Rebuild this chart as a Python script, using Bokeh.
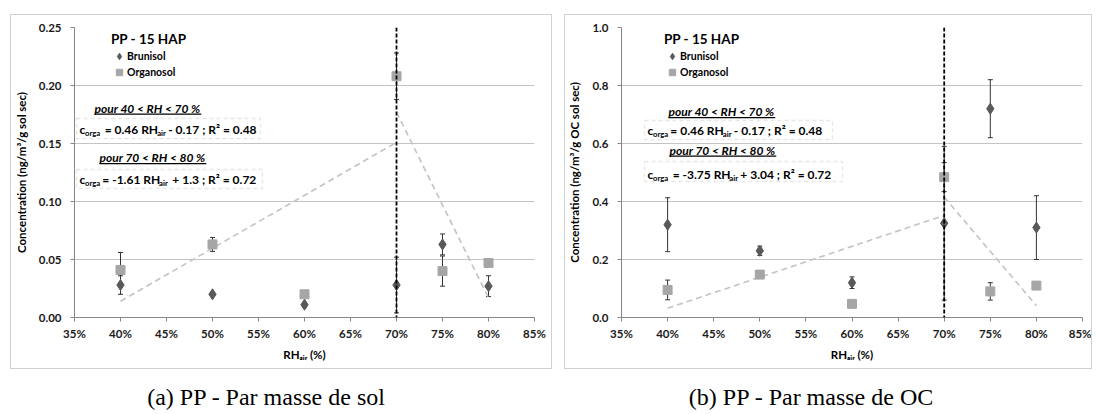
from math import pi
import numpy as np
from bokeh.plotting import figure
from bokeh.models import (ColumnDataSource, Whisker, Span, Label, BoxAnnotation, Legend, LegendItem,
                          NumeralTickFormatter, FixedTicker, Range1d, Spacer, TeeHead)
from bokeh.layouts import row, column
from bokeh.embed import file_html
from bokeh.resources import INLINE

# ---------------- data ----------------
rh_air = [0.40, 0.50, 0.60, 0.70, 0.75, 0.80]
x_ticks = [0.35, 0.40, 0.45, 0.50, 0.55, 0.60, 0.65, 0.70, 0.75, 0.80, 0.85]
rh_threshold = 0.70

# (a) par masse de sol
a_brunisol = [0.028, 0.020, 0.011, 0.028, 0.063, 0.027]
a_brunisol_err = [0.008, 0.001, 0.002, 0.024, 0.009, 0.009]
a_organosol = [0.041, 0.063, 0.020, 0.208, 0.040, 0.047]
a_organosol_err = [0.015, 0.006, 0.002, 0.020, 0.013, 0.001]
a_trend1_x = [0.40, 0.70]
a_trend1_y = [0.014, 0.151]
a_trend2_x = [0.70, 0.80]
a_trend2_y = [0.177, 0.017]
a_y_ticks = [0.00, 0.05, 0.10, 0.15, 0.20, 0.25]

# (b) par masse de OC
b_brunisol = [0.32, 0.23, 0.12, 0.325, 0.72, 0.31]
b_brunisol_err = [0.093, 0.016, 0.02, 0.265, 0.10, 0.11]
b_organosol = [0.095, 0.148, 0.047, 0.484, 0.09, 0.11]
b_organosol_err = [0.034, 0.01, 0.003, 0.05, 0.03, 0.003]
b_trend1_x = [0.40, 0.70]
b_trend1_y = [0.032, 0.352]
b_trend2_x = [0.70, 0.80]
b_trend2_y = [0.415, 0.041]
b_y_ticks = [0.0, 0.2, 0.4, 0.6, 0.8, 1.0]

x_label = "RH\u2090\u1d62\u1d63 (%)"

# ---------------- style ----------------
FONT = "Lato"
C_BRU = "#595959"
C_ORG = "#a6a6a6"
C_ERR = "#333333"
C_TREND = "#c3c3c3"
C_AXIS = "#868686"
C_GRID = "#c4c4c4"

CW = {' ': .193, '=': .58, '-': .35, '.': .27, ';': .27, 'R': .64, 'H': .76, 'c': .46, 'o': .56,
      'r': .38, 'g': .51, 'a': .50, 'i': .25, '\u00b2': .38, '%': .80, '(': .31, ')': .31,
      '+': .58, '<': .58, 'p': .56, 'u': .56}


def tw(s, size):
    return sum(CW.get(ch, .58 if ch.isdigit() else .55) for ch in s) * size


def rich(p, fl, fb, x, yc, parts, size=12.0, center=False):
    """parts: list of (text, kind) kind 'n' normal, 's' subscript. x page coord, yc page centre line."""
    def fs_of(kind):
        return size if kind == "n" else size * 0.64
    total = sum(tw(t, fs_of(k)) for t, k in parts)
    cx = x - total / 2 if center else x
    for txt, kind in parts:
        fs = fs_of(kind)
        dy = 0 if kind == "n" else 3.5
        lead = txt[:len(txt) - len(txt.lstrip())]
        core = txt.strip()
        trail = txt[len(txt.rstrip()):]
        cx += tw(lead, fs)
        p.add_layout(Label(x=cx - fl, y=fb - (yc + dy), x_units="screen", y_units="screen", text=core,
                           text_font=FONT, text_font_size=f"{fs:.1f}px", text_font_style="bold",
                           text_baseline="middle", text_align="left", text_color="black"))
        cx += tw(core, fs) + tw(trail, fs)


def make_panel(width, height, frame_left, frame_right, frame_top, frame_bottom, canvas_left, canvas_top,
               bru, bru_err, org, org_err, t1x, t1y, t2x, t2y, y_max, y_ticks, y_fmt,
               ylabel, ylabel_standoff, eq1, eq2, boxes, pours, eq_x, eq_y, legend_loc):
    p = figure(width=width, height=height, output_backend="svg", toolbar_location=None,
               x_range=Range1d(0.35, 0.85), y_range=Range1d(0, y_max),
               min_border_left=frame_left - canvas_left,
               min_border_right=canvas_left + width - frame_right,
               min_border_top=frame_top - canvas_top,
               min_border_bottom=canvas_top + height - frame_bottom,
               styles={"border": "1px solid #d0d0d0"})
    p.outline_line_color = None
    p.background_fill_color = "white"
    p.border_fill_color = "white"
    p.xgrid.grid_line_color = None
    p.ygrid.grid_line_color = C_GRID
    p.ygrid.grid_line_width = 1
    p.xaxis.ticker = FixedTicker(ticks=x_ticks)
    p.yaxis.ticker = FixedTicker(ticks=y_ticks)
    p.xaxis.formatter = NumeralTickFormatter(format="0%")
    p.yaxis.formatter = NumeralTickFormatter(format=y_fmt)
    for ax in (p.xaxis, p.yaxis):
        ax.axis_line_color = C_AXIS
        ax.major_tick_line_color = C_AXIS
        ax.major_tick_out = 4
        ax.major_tick_in = 0
        ax.minor_tick_line_color = None
        ax.major_label_text_font = FONT
        ax.major_label_text_font_size = "11.5px"
        ax.major_label_text_font_style = "bold"
        ax.major_label_text_color = "#1a1a1a"
        ax.axis_label_text_font = FONT
        ax.axis_label_text_font_size = "11.5px"
        ax.axis_label_text_font_style = "bold"
        ax.axis_label_text_color = "black"
    p.xaxis.major_label_standoff = 5
    p.yaxis.major_label_standoff = 9
    p.xaxis.axis_label = x_label
    p.xaxis.axis_label_standoff = 5
    p.yaxis.axis_label = ylabel
    p.yaxis.axis_label_standoff = ylabel_standoff

    fl, fb = frame_left, frame_bottom

    # trend lines
    p.line(t1x, t1y, line_color=C_TREND, line_dash="6 4", line_width=1.6)
    p.line(t2x, t2y, line_color=C_TREND, line_dash="6 4", line_width=1.6)

    # error bars
    for vals, errs in ((org, org_err), (bru, bru_err)):
        v = np.array(vals)
        e = np.array(errs)
        src = ColumnDataSource(dict(x=rh_air, upper=v + e, lower=v - e))
        w = Whisker(base="x", upper="upper", lower="lower", source=src, line_color=C_ERR, line_width=1,
                    upper_head=TeeHead(size=5, line_color=C_ERR, line_width=1),
                    lower_head=TeeHead(size=5, line_color=C_ERR, line_width=1), level="underlay")
        p.add_layout(w)

    src_b = ColumnDataSource(dict(x=rh_air, y=bru))
    src_o = ColumnDataSource(dict(x=rh_air, y=org))
    r_o = p.scatter("x", "y", source=src_o, marker="square", size=9, fill_color=C_ORG, line_color=C_ORG)
    r_b = p.scatter("x", "y", source=src_b, marker="diamond", size=11,
                    fill_color=C_BRU, line_color=C_BRU)

    p.add_layout(Span(location=rh_threshold, dimension="height", line_color="black",
                      line_dash="4 2", line_width=1.8))

    leg = Legend(items=[LegendItem(label="Brunisol", renderers=[r_b]),
                        LegendItem(label="Organosol", renderers=[r_o])],
                 title="PP - 15 HAP", location=(legend_loc[0] - fl, fb - legend_loc[1]),
                 title_text_font=FONT, title_text_font_size="13.5px", title_text_font_style="bold",
                 title_text_color="black", title_standoff=1,
                 label_text_font=FONT, label_text_font_size="10.5px", label_text_font_style="bold",
                 label_text_color="black", glyph_width=16, glyph_height=16, label_height=15,
                 label_standoff=0, spacing=-1, padding=0, margin=0,
                 border_line_color=None, background_fill_alpha=0)
    p.add_layout(leg)

    # dashed boxes
    for (l, r, t, b) in boxes:
        p.add_layout(BoxAnnotation(left=l - fl, right=r - fl, top=fb - t, bottom=fb - b,
                                   left_units="screen", right_units="screen",
                                   top_units="screen", bottom_units="screen",
                                   fill_color="white", fill_alpha=1.0, line_color="#b0b0b0",
                                   line_dash="4 3", line_width=1.3, level="annotation"))
    # "pour ..." underlined headers
    for (txt, x0, yc) in pours:
        p.add_layout(Label(x=x0 - fl, y=fb - yc, x_units="screen", y_units="screen", text=txt,
                           text_font=FONT, text_font_size="12px", text_font_style="bold italic",
                           text_baseline="middle", text_align="left", text_color="black"))
        wdt = tw(txt, 12)
        p.add_layout(BoxAnnotation(left=x0 - fl, right=x0 + wdt - fl, top=fb - (yc + 5.5),
                                   bottom=fb - (yc + 6.7),
                                   left_units="screen", right_units="screen",
                                   top_units="screen", bottom_units="screen",
                                   fill_color="black", fill_alpha=1.0, line_color=None))
    rich(p, fl, fb, eq_x, eq_y[0], eq1, size=12)
    rich(p, fl, fb, eq_x, eq_y[1], eq2, size=12)
    return p


pA = make_panel(542, 355, 74, 534, 27, 317, 11, 15,
                a_brunisol, a_brunisol_err, a_organosol, a_organosol_err,
                a_trend1_x, a_trend1_y, a_trend2_x, a_trend2_y, 0.25, a_y_ticks, "0.00",
                "Concentration (ng/m\u00b3/g sol sec)", 8,
                [("c", "n"), ("orga", "s"), ("  = 0.46 RH", "n"), ("air", "s"),
                 (" - 0.17 ; R\u00b2 = 0.48", "n")],
                [("c", "n"), ("orga", "s"), (" = -1.61 RH", "n"), ("air", "s"),
                 ("  + 1.3 ; R\u00b2 = 0.72", "n")],
                [(76, 260, 118, 138), (76, 262, 169, 188)],
                [("pour 40 < RH < 70 %", 94, 107.5), ("pour 70 < RH < 80 %", 99, 157)],
                79, (128.5, 179), (111, 80))

pB = make_panel(528, 355, 622, 1084, 27, 317, 567, 15,
                b_brunisol, b_brunisol_err, b_organosol, b_organosol_err,
                b_trend1_x, b_trend1_y, b_trend2_x, b_trend2_y, 1.0, b_y_ticks, "0.0",
                "Concentration (ng/m\u00b3/g OC sol sec)", 8,
                [("c", "n"), ("orga", "s"), (" = 0.46 RH", "n"), ("air", "s"),
                 (" - 0.17 ; R\u00b2 = 0.48", "n")],
                [("c", "n"), ("orga", "s"), ("  = -3.75 RH", "n"), ("air", "s"),
                 (" + 3.04 ; R\u00b2 = 0.72", "n")],
                [(645, 833, 120, 139), (645, 843, 161, 181)],
                [("pour 40 < RH < 70 %", 669, 111), ("pour 70 < RH < 80 %", 670, 149.5)],
                648, (129.5, 173.5), (665, 80))


def caption(width, cx, text):
    c = figure(width=width, height=42, output_backend="svg", toolbar_location=None,
               x_range=Range1d(0, 1), y_range=Range1d(0, 1), min_border=0)
    c.axis.visible = False
    c.grid.grid_line_color = None
    c.outline_line_color = None
    c.add_layout(Label(x=cx, y=15, x_units="screen", y_units="screen", text=text,
                       text_font="Liberation Serif", text_font_size="24px",
                       text_align="center", text_baseline="middle", text_color="black"))
    return c


capA = caption(544, 256, "(a) PP - Par masse de sol")
capB = caption(530, 245, "(b) PP - Par masse de OC")

layout = column(Spacer(height=14),
                row(Spacer(width=10), pA, Spacer(width=12), pB),
                row(Spacer(width=10), capA, Spacer(width=12), capB))

open("out.html", "w").write(file_html(layout, INLINE))
